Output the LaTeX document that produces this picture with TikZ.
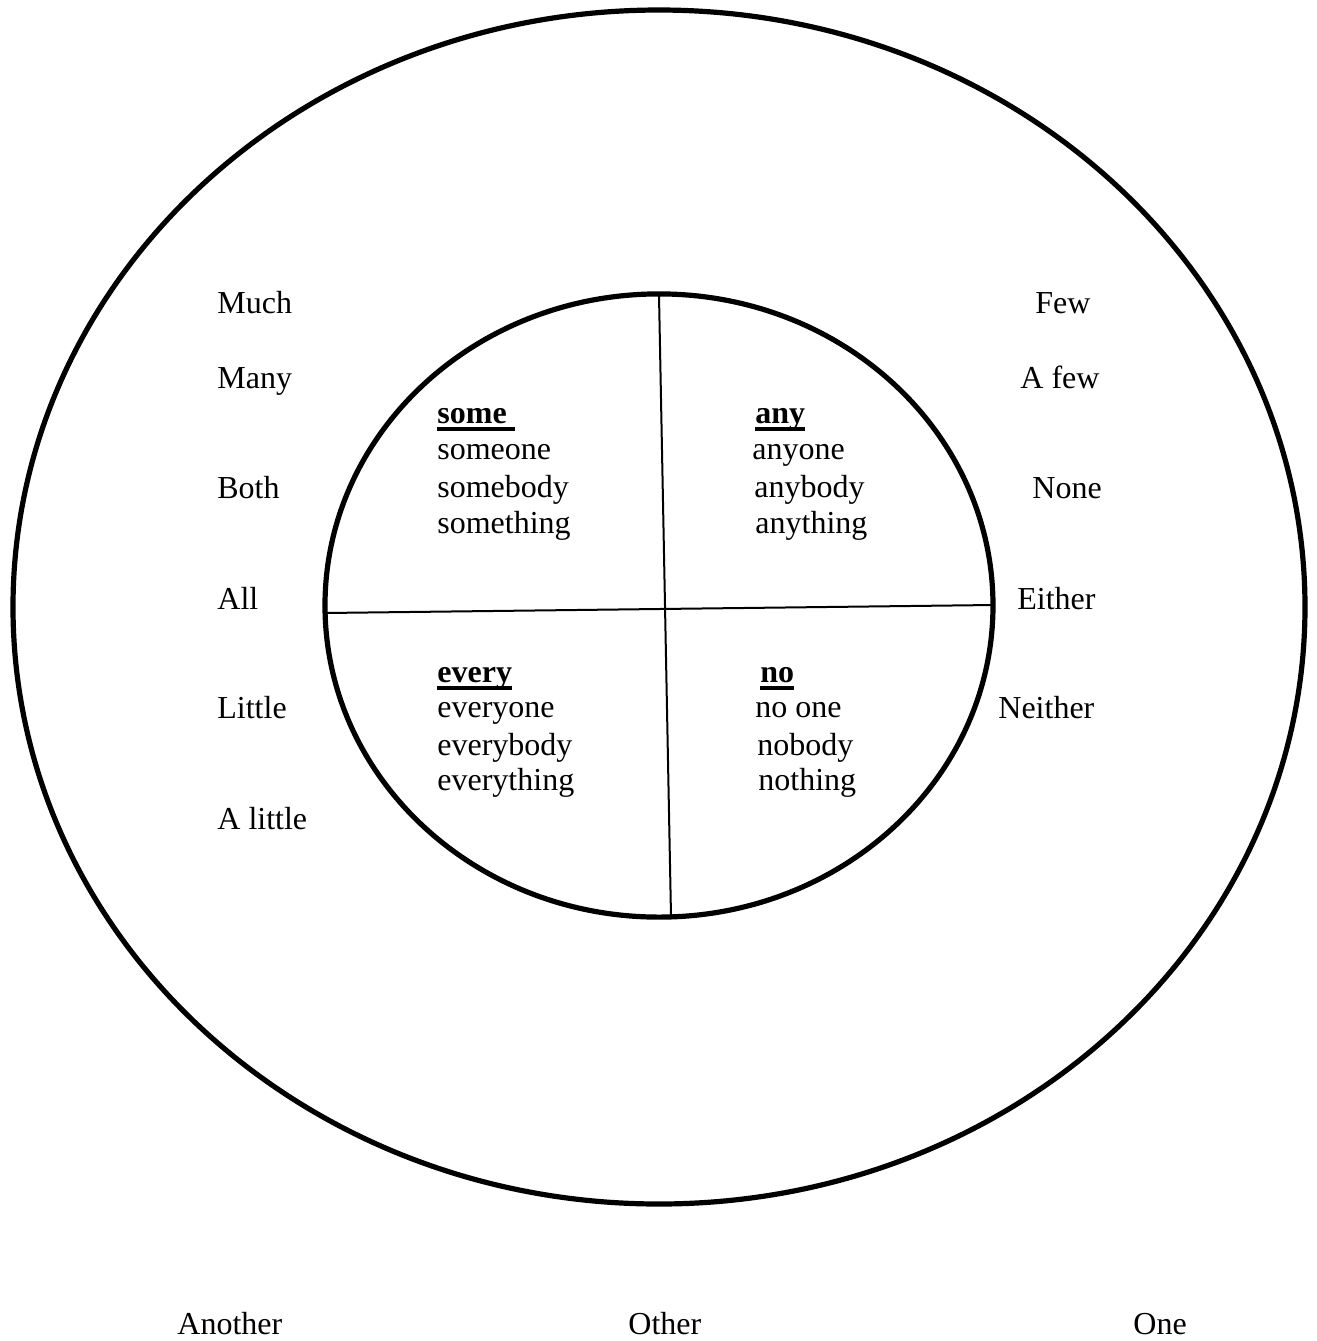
\documentclass[tikz,border=0pt]{standalone}
\usepackage{fontspec}
\setmainfont{Liberation Serif}
\newcommand{\hdrul}[1]{\setbox0\hbox{\bfseries #1}\rlap{\rule[-3.8pt]{\wd0}{1.7pt}}\box0}
\begin{document}
\begin{tikzpicture}[x=0.5pt,y=-0.5pt,
  lbl/.style={anchor=base west,inner sep=0pt,font=\fontsize{16}{18.4}\selectfont},
  ring/.style={line width=2.6pt},
  divider/.style={line width=1pt}]
\useasboundingbox (0,0) rectangle (1317,1341);
% ellipses
\coordinate (oc) at (659,607);
\coordinate (ic) at (659,605.5);
\draw[ring] (oc) ellipse [x radius=323pt, y radius=298.5pt];
\draw[ring] (ic) ellipse [x radius=167pt, y radius=155.8pt];
% dividers
\coordinate (vt) at (659,295);
\coordinate (vb) at (671,916);
\coordinate (hl) at (325,613);
\coordinate (hr) at (993,605);
\draw[divider] (vt) -- (vb);
\draw[divider] (hl) -- (hr);
% left labels
\node[lbl] (much) at (217,313) {Much};
\node[lbl] (many) at (217,388) {Many};
\node[lbl] (both) at (217,498) {Both};
\node[lbl] (all) at (217,609) {All};
\node[lbl] (little) at (217,718) {Little};
\node[lbl] (alittle) at (217,829) {A little};
% right labels
\node[lbl] (few) at (1035,313) {Few};
\node[lbl] (afew) at (1020,388) {A few};
\node[lbl] (none) at (1032,498) {None};
\node[lbl] (either) at (1017,609) {Either};
\node[lbl] (neither) at (998,718) {Neither};
% quadrant: some
\node[lbl] (some) at (437,423) {\hdrul{some\ }};
\node[lbl] (someone) at (437,459) {someone};
\node[lbl] (somebody) at (437,497) {somebody};
\node[lbl] (something) at (437,533) {something};
% quadrant: any
\node[lbl] (any) at (755,423) {\hdrul{any}};
\node[lbl] (anyone) at (752,459) {anyone};
\node[lbl] (anybody) at (754,497) {anybody};
\node[lbl] (anything) at (755,533) {anything};
% quadrant: every
\node[lbl] (every) at (437,682) {\hdrul{every}};
\node[lbl] (everyone) at (437,717) {everyone};
\node[lbl] (everybody) at (437,755) {everybody};
\node[lbl] (everything) at (437,790) {everything};
% quadrant: no
\node[lbl] (no) at (760,682) {\hdrul{no}};
\node[lbl] (noone) at (755,717) {no one};
\node[lbl] (nobody) at (757,755) {nobody};
\node[lbl] (nothing) at (758,790) {nothing};
% bottom labels
\node[lbl] (another) at (177,1334) {Another};
\node[lbl] (other) at (628,1334) {Other};
\node[lbl] (one) at (1133,1334) {One};
\end{tikzpicture}
\end{document}
